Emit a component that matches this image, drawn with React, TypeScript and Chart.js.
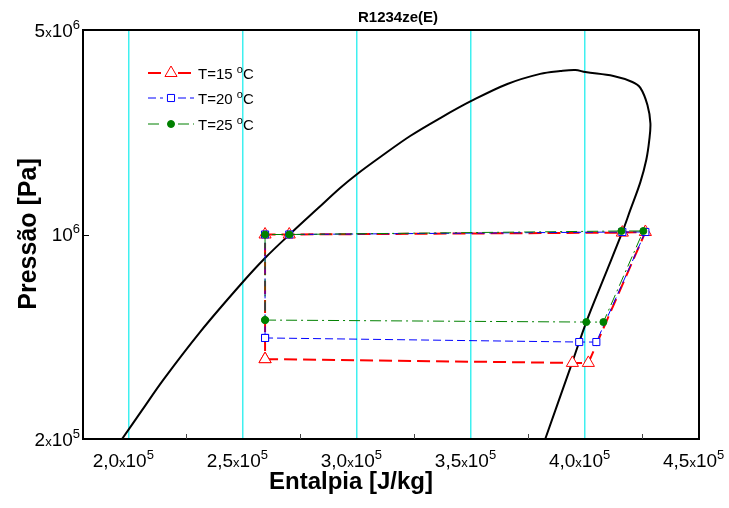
import React, { useEffect, useRef } from 'react';
import { Chart, registerables } from 'chart.js';

Chart.register(...registerables);

// ---- data ----
const domeH = [1.971e5, 2.059e5, 2.151e5, 2.313e5, 2.489e5, 2.598e5, 2.712e5, 2.831e5, 2.927e5, 3.002e5, 3.103e5, 3.234e5, 3.366e5, 3.502e5, 3.66e5, 3.804e5, 3.892e5, 3.958e5, 4.002e5, 4.125e5, 4.208e5, 4.243e5, 4.274e5, 4.287e5, 4.282e5, 4.269e5, 4.243e5, 4.199e5, 4.164e5, 4.085e5, 4.006e5, 3.936e5, 3.826e5];
const domeP = [2.0e5, 2.51e5, 3.18e5, 4.64e5, 6.72e5, 8.31e5, 1.011e6, 1.231e6, 1.442e6, 1.61e6, 1.84e6, 2.171e6, 2.501e6, 2.86e6, 3.27e6, 3.54e6, 3.62e6, 3.65e6, 3.59e6, 3.48e6, 3.32e6, 3.17e6, 2.77e6, 2.4e6, 2.1e6, 1.8e6, 1.51e6, 1.213e6, 1.02e6, 7.16e5, 5.02e5, 3.5e5, 2.0e5];

const seriesLabels = ['T=15', 'T=20', 'T=25'];
const h15 = [2.598e5, 3.945e5, 4.015e5, 4.265e5, 4.164e5, 2.704e5, 2.598e5, 2.598e5];
const p15 = [3.75e5, 3.64e5, 3.64e5, 1.02e6, 1.015e6, 1.0e6, 1.0e6, 3.75e5];
const h20 = [2.598e5, 3.975e5, 4.05e5, 4.265e5, 4.164e5, 2.704e5, 2.598e5, 2.598e5];
const p20 = [4.43e5, 4.29e5, 4.29e5, 1.02e6, 1.02e6, 1.0e6, 1.0e6, 4.43e5];
const h25 = [2.598e5, 4.006e5, 4.081e5, 4.256e5, 4.16e5, 2.704e5, 2.598e5, 2.598e5];
const p25 = [5.1e5, 5.02e5, 5.02e5, 1.028e6, 1.028e6, 1.0e6, 1.0e6, 5.1e5];

const xTickValues = [2.0e5, 2.5e5, 3.0e5, 3.5e5, 4.0e5, 4.5e5];
const xTickMantissas = ['2,0', '2,5', '3,0', '3,5', '4,0', '4,5'];
const xTickExponent = '5';
const xMinorValues = [2.25e5, 2.75e5, 3.25e5, 3.75e5, 4.25e5];
const yTickValues = [2e5, 1e6, 5e6];
const yTickMantissas = ['2', '', '5'];
const yTickExponents = ['5', '6', '6'];

const titleText = 'R1234ze(E)';
const xTitle = 'Entalpia [J/kg]';
const yTitle = 'Pressão [Pa]';

// ---- styles ----
const FONT = '"Liberation Sans", Arial, Helvetica, sans-serif';
const RED = '#ff0000';
const BLUE = '#0000ff';
const GREEN = '#008000';
const styles = [
  { color: RED, width: 2, dash: [13, 6], point: 'triangle', radius: 7, fill: '#ffffff' },
  { color: BLUE, width: 1, dash: [8, 4], point: 'rect', radius: 5, fill: '#ffffff' },
  { color: GREEN, width: 1, dash: [11, 4, 2, 4], point: 'circle', radius: 3.5, fill: GREEN },
];

function drawSci(ctx: CanvasRenderingContext2D, mant: string, exp: string, x: number, baseline: number, align: 'left' | 'right') {
  const big = `19px ${FONT}`;
  const small = `13px ${FONT}`;
  const parts: [string, string, number][] = [];
  if (mant) {
    parts.push([mant, big, 0]);
    parts.push(['x', small, 0]);
  }
  parts.push(['10', big, 0]);
  parts.push([exp, small, -8]);
  let total = 0;
  const widths = parts.map(([t, f]) => {
    ctx.font = f;
    const w = ctx.measureText(t).width;
    total += w;
    return w;
  });
  let cx = align === 'left' ? x : x - total;
  ctx.textAlign = 'left';
  ctx.textBaseline = 'alphabetic';
  parts.forEach(([t, f, dy], i) => {
    ctx.font = f;
    ctx.fillText(t, cx, baseline + dy);
    cx += widths[i];
  });
}

function drawMarker(ctx: CanvasRenderingContext2D, s: any, x: number, y: number) {
  ctx.save();
  ctx.setLineDash([]);
  ctx.lineWidth = 1;
  ctx.strokeStyle = s.color;
  ctx.fillStyle = s.fill;
  ctx.beginPath();
  const r = s.radius;
  if (s.point === 'triangle') {
    let a = 0;
    ctx.moveTo(x + Math.sin(a) * r, y - Math.cos(a) * r);
    a += (2 * Math.PI) / 3;
    ctx.lineTo(x + Math.sin(a) * r, y - Math.cos(a) * r);
    a += (2 * Math.PI) / 3;
    ctx.lineTo(x + Math.sin(a) * r, y - Math.cos(a) * r);
    ctx.closePath();
  } else if (s.point === 'rect') {
    const sz = Math.SQRT1_2 * r;
    ctx.rect(x - sz, y - sz, 2 * sz, 2 * sz);
  } else {
    ctx.arc(x, y, r, 0, Math.PI * 2);
  }
  ctx.fill();
  ctx.stroke();
  ctx.restore();
}

const overlayPlugin = {
  id: 'overlay',
  afterDraw(chart: any) {
    const { ctx, chartArea: a, scales } = chart;
    const xs = scales.x;
    const ys = scales.y;
    ctx.save();
    // frame
    ctx.setLineDash([]);
    ctx.strokeStyle = '#000';
    ctx.lineWidth = 2;
    ctx.strokeRect(a.left, a.top, a.right - a.left, a.bottom - a.top);
    // minor ticks
    ctx.lineWidth = 1;
    ctx.strokeStyle = '#444';
    xMinorValues.forEach((v) => {
      const px = Math.round(xs.getPixelForValue(v)) + 0.5;
      ctx.beginPath();
      ctx.moveTo(px, a.bottom);
      ctx.lineTo(px, a.bottom - 5);
      ctx.stroke();
    });
    ctx.strokeStyle = '#000';
    yTickValues.forEach((v) => {
      const py = Math.round(ys.getPixelForValue(v)) + 0.5;
      if (py > a.top + 3 && py < a.bottom - 3) {
        ctx.beginPath();
        ctx.moveTo(a.left, py);
        ctx.lineTo(a.left + 6, py);
        ctx.stroke();
      }
    });
    // tick labels
    ctx.fillStyle = '#000';
    xTickValues.forEach((v, i) => {
      drawSci(ctx, xTickMantissas[i], xTickExponent, xs.getPixelForValue(v) - 36, 467, 'left');
    });
    yTickValues.forEach((v, i) => {
      drawSci(ctx, yTickMantissas[i], yTickExponents[i], 80, ys.getPixelForValue(v) + 6.5, 'right');
    });
    // title
    ctx.font = `bold 15px ${FONT}`;
    ctx.textAlign = 'center';
    ctx.fillText(titleText, 398, 22);
    // axis titles
    ctx.font = `bold 24px ${FONT}`;
    ctx.fillText(xTitle, 351, 489);
    ctx.save();
    ctx.translate(36, 234);
    ctx.rotate(-Math.PI / 2);
    ctx.font = `bold 25px ${FONT}`;
    ctx.fillText(yTitle, 0, 0);
    ctx.restore();
    // legend
    const ly = [73, 98, 124];
    styles.forEach((s, i) => {
      const y = ly[i];
      ctx.save();
      ctx.strokeStyle = s.color;
      ctx.lineWidth = s.width;
      ctx.setLineDash(s.dash);
      ctx.beginPath();
      ctx.moveTo(148, y);
      ctx.lineTo(163, y);
      ctx.moveTo(178, y);
      ctx.lineTo(194, y);
      ctx.stroke();
      ctx.restore();
      drawMarker(ctx, s, 171, y);
      ctx.fillStyle = '#000';
      ctx.textAlign = 'left';
      ctx.textBaseline = 'alphabetic';
      ctx.font = `15px ${FONT}`;
      const t = seriesLabels[i] + ' ';
      ctx.fillText(t, 198, y + 5.5);
      let cx = 198 + ctx.measureText(t).width;
      ctx.font = `11px ${FONT}`;
      ctx.fillText('o', cx, y - 0.5);
      cx += ctx.measureText('o').width;
      ctx.font = `15px ${FONT}`;
      ctx.fillText('C', cx, y + 5.5);
    });
    ctx.restore();
  },
};

function toPts(hs: number[], ps: number[]) {
  return hs.map((h, i) => ({ x: h, y: ps[i] }));
}

export default function App() {
  const ref = useRef<HTMLCanvasElement>(null);
  useEffect(() => {
    if (!ref.current) return;
    const cycles = [
      [h15, p15],
      [h20, p20],
      [h25, p25],
    ];
    const chart = new Chart(ref.current, {
      type: 'scatter',
      data: {
        datasets: [
          {
            label: 'dome',
            data: toPts(domeH, domeP),
            showLine: true,
            borderColor: '#000',
            borderWidth: 2,
            pointRadius: 0,
            tension: 0.35,
            fill: false,
            order: 10,
          } as any,
          ...cycles.map(([hs, ps], i) => ({
            label: seriesLabels[i],
            data: toPts(hs, ps),
            showLine: true,
            borderColor: styles[i].color,
            borderWidth: styles[i].width,
            borderDash: styles[i].dash,
            pointStyle: styles[i].point,
            pointRadius: styles[i].radius,
            pointBorderWidth: 1,
            pointBorderColor: styles[i].color,
            pointBackgroundColor: styles[i].fill,
            tension: 0,
            fill: false,
            order: 3 - i,
          })),
        ],
      },
      options: {
        animation: false,
        responsive: false,
        maintainAspectRatio: false,
        layout: { padding: { top: 30, right: 30, left: 0, bottom: 0 } },
        plugins: { legend: { display: false }, tooltip: { enabled: false }, title: { display: false } },
        scales: {
          x: {
            type: 'linear',
            min: 1.8e5,
            max: 4.5e5,
            afterBuildTicks: (s: any) => {
              s.ticks = xTickValues.map((v) => ({ value: v }));
            },
            afterFit: (s: any) => {
              s.height = 69;
            },
            ticks: { display: false },
            border: { display: false },
            grid: {
              drawTicks: false,
              lineWidth: 1.5,
              color: (c: any) => (c.tick && c.tick.value < 4.4e5 ? '#3ff0f0' : 'rgba(0,0,0,0)'),
            },
          },
          y: {
            type: 'logarithmic',
            min: 2e5,
            max: 5e6,
            afterBuildTicks: (s: any) => {
              s.ticks = yTickValues.map((v) => ({ value: v }));
            },
            afterFit: (s: any) => {
              s.width = 83;
            },
            ticks: { display: false },
            border: { display: false },
            grid: { display: false, drawTicks: false },
          },
        },
      } as any,
      plugins: [overlayPlugin],
    });
    return () => chart.destroy();
  }, []);
  return (
    <div style={{ position: 'absolute', left: 0, top: 0, width: 729, height: 508, background: '#fff' }}>
      <canvas ref={ref} width={729} height={508} style={{ width: 729, height: 508, display: 'block' }} />
    </div>
  );
}
